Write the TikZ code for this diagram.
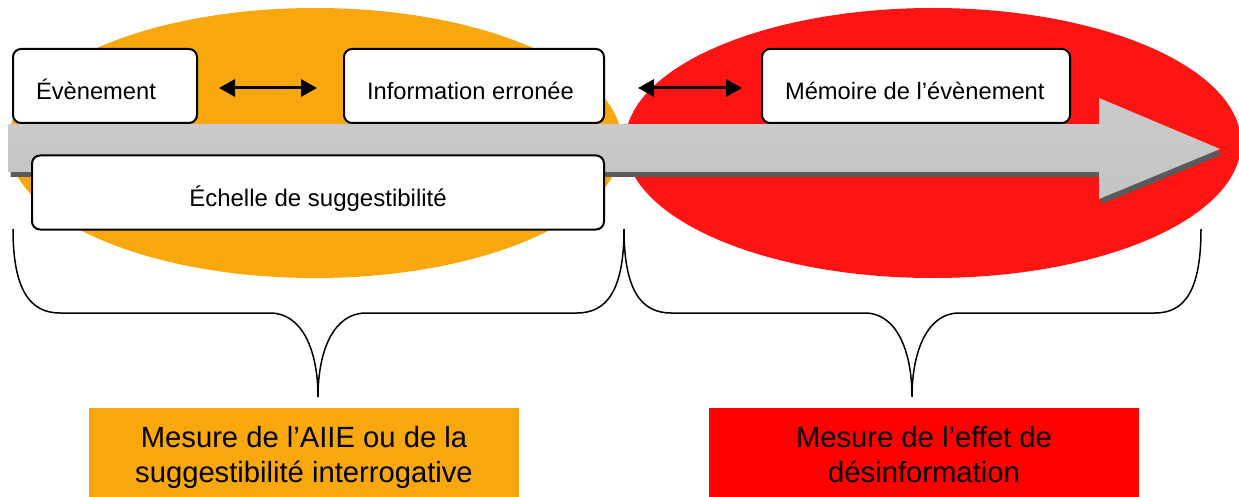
\documentclass[tikz,border=0pt]{standalone}
\usepackage{fontspec}
\setmainfont{Liberation Sans}
\usetikzlibrary{arrows.meta}
\definecolor{orng}{HTML}{F8A80C}
\definecolor{rd}{HTML}{FF1414}
\definecolor{rdbox}{HTML}{FF0000}
\definecolor{shadowgray}{HTML}{5A5A5A}
\definecolor{gtop}{HTML}{CACACA}
\definecolor{gmid}{HTML}{AEAEAE}
\definecolor{gbot}{HTML}{C4C4C4}
\begin{document}
\begin{tikzpicture}[x=1pt,y=-1pt,
  topbox/.style={draw=black, line width=2pt, fill=white, rounded corners=8pt,
    minimum height=74pt, inner ysep=0pt, inner xsep=23pt,
    text height=28pt, text depth=0pt, font=\fontsize{23.7}{28}\selectfont},
  botbox/.style={draw=none, inner ysep=0pt, inner xsep=0pt, align=center,
    text height=74pt, text depth=15pt, font=\fontsize{29.2}{35}\selectfont},
  dbl/.style={line width=3pt, {Triangle[length=16pt,width=17pt]}-{Triangle[length=16pt,width=17pt]}},
  bracepath/.style={draw=black, line width=1.5pt}
]
\useasboundingbox (0,0) rectangle (1239,497);

% background ellipses
\fill[orng] (315,143) ellipse [x radius=307, y radius=135];
\fill[rd] (933,143) ellipse [x radius=308, y radius=135];

% big gray arrow: shadow, body, shaft
\fill[shadowgray] (10.5,130) -- (1101.5,130) -- (1101.5,103) -- (1223,154) -- (1101.5,204) -- (1101.5,177) -- (10.5,177) -- cycle;
\shade[top color=gtop, middle color=gmid, bottom color=gbot]
  (8,125) -- (1099,125) -- (1099,98) -- (1220,149) -- (1099,199) -- (1099,172) -- (8,172) -- cycle;
\shade[top color=gtop, middle color=gmid, bottom color=gbot] (8,125) rectangle (1099,172);

% top boxes
\node[topbox] (eve) at (105,86) {\makebox[138pt][l]{Évènement}};
\node[topbox] (info) at (474,86) {\makebox[214pt][l]{Information erronée}};
\node[topbox] (mem) at (916,86) {\makebox[262pt][l]{Mémoire de l’évènement}};
\node[topbox, minimum width=572pt, font=\fontsize{24}{28}\selectfont] (ech) at (318,192.5) {Échelle de suggestibilité};

% double arrows
\draw[dbl, shorten <=21pt, shorten >=26pt] ([yshift=-2pt]eve.east) -- ([yshift=-2pt]info.west);
\draw[dbl, shorten <=33pt, shorten >=19pt] ([yshift=-2pt]info.east) -- ([yshift=-2pt]mem.west);

% braces
\coordinate (bl1) at (13,229);
\coordinate (bl2) at (624,229);
\coordinate (tipL) at (318,397);
\coordinate (br2) at (1201,229);
\coordinate (tipR) at (912,397);
\draw[bracepath] (bl1) .. controls (13,290) and (30,313) .. (60,313) -- (270,313)
  .. controls (302,313) and (318,350) .. (tipL)
  .. controls (318,350) and (334,313) .. (366,313) -- (577,313)
  .. controls (607,313) and (624,290) .. (bl2);
\draw[bracepath] (bl2) .. controls (624,290) and (641,313) .. (671,313) -- (865,313)
  .. controls (896,313) and (912,350) .. (tipR)
  .. controls (912,350) and (928,313) .. (959,313) -- (1155,313)
  .. controls (1185,313) and (1201,290) .. (br2);

% bottom boxes
\node[botbox, fill=orng, minimum width=430pt] (mesA) at (304,452.5)
  {Mesure de l’AIIE ou de la\\suggestibilité interrogative};
\node[botbox, fill=rdbox, minimum width=430pt] (mesB) at (924,452.5)
  {Mesure de l’effet de\\désinformation};
\end{tikzpicture}
\end{document}
